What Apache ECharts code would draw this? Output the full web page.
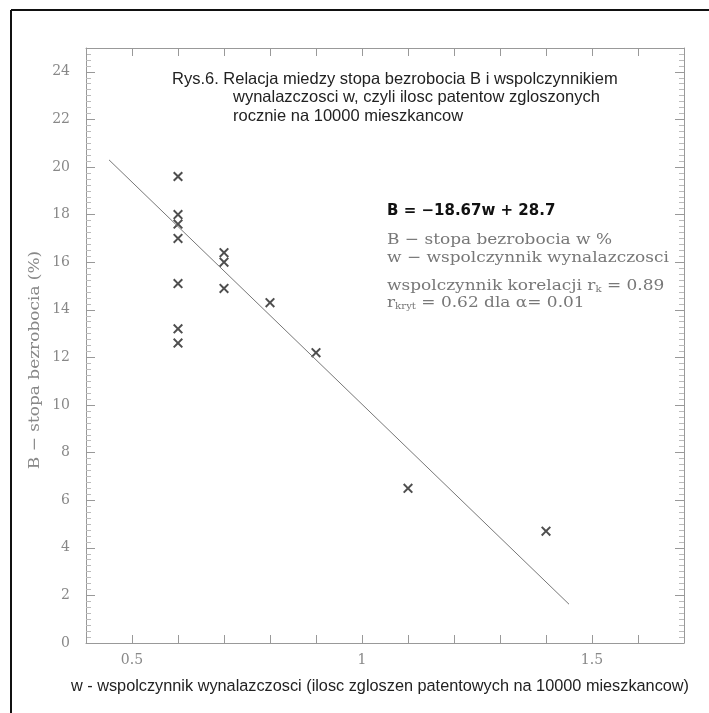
<html>
<head>
<meta charset="utf-8">
<title>Rys.6</title>
<script src="https://cdn.jsdelivr.net/npm/echarts@6/dist/echarts.min.js"></script>
<style>
  html, body { margin: 0; padding: 0; background: #fff; }
  #main { width: 709px; height: 713px; }
</style>
</head>
<body>
<div id="main"></div>
<script>
// dane
var wValues = [0.6, 0.6, 0.6, 0.6, 0.6, 0.6, 0.6, 0.7, 0.7, 0.7, 0.8, 0.9, 1.1, 1.4];
var bValues = [19.6, 18.0, 17.6, 17.0, 15.1, 13.2, 12.6, 16.4, 16.0, 14.9, 14.3, 12.2, 6.5, 4.7];
// prosta regresji B = -18.67w + 28.7 (konce odcinka)
var fitW = [0.45, 1.45];
var fitB = [20.3, 1.63];
var xLabelValues = [0.5, 1, 1.5];

var titleLines = [
    'Rys.6. Relacja miedzy stopa bezrobocia B i wspolczynnikiem',
    'wynalazczosci w, czyli ilosc patentow zgloszonych',
    'rocznie na 10000 mieszkancow'
];

var points = wValues.map(function (w, i) { return [w, bValues[i]]; });
var fitLine = fitW.map(function (w, i) { return [w, fitB[i]]; });

var grey = '#999';
var serif = 'DejaVu Serif';
var crossPath = 'path://M1.4,0 L5,3.6 L8.6,0 L10,1.4 L6.4,5 L10,8.6 L8.6,10 L5,6.4 L1.4,10 L0,8.6 L3.6,5 L0,1.4 Z';

function xLabel(v) {
    for (var i = 0; i < xLabelValues.length; i++) {
        if (Math.abs(v - xLabelValues[i]) < 1e-6) return String(xLabelValues[i]);
    }
    return '';
}

var myChart = echarts.init(document.getElementById('main'));

var baseX = {
    type: 'value', min: 0.4, max: 1.7, interval: 0.1,
    axisLine: { show: true, onZero: false, lineStyle: { color: grey, width: 1 } },
    axisTick: { show: true, inside: true, length: 8, lineStyle: { color: grey } },
    splitLine: { show: false }
};
var baseY = {
    type: 'value', min: 0, max: 25, interval: 2,
    axisLine: { show: true, onZero: false, lineStyle: { color: grey, width: 1 } },
    axisTick: { show: true, inside: true, length: 9, lineStyle: { color: grey } },
    minorTick: { show: true, splitNumber: 8, length: 5, lineStyle: { color: '#bbb' } },
    splitLine: { show: false }
};

var noteFont = '15px "DejaVu Serif"';
var subStyle = { fontSize: 9, fontFamily: serif, fill: '#777', padding: [7, 0, 0, 0] };

var option = {
    backgroundColor: '#fff',
    animation: false,
    grid: { left: 86, right: 25, top: 48, bottom: 70, containLabel: false },
    xAxis: [
        Object.assign({}, baseX, {
            position: 'bottom',
            axisLabel: { show: true, margin: 10, color: '#888', fontFamily: serif, fontSize: 14, formatter: xLabel }
        }),
        Object.assign({}, baseX, { position: 'top', axisLabel: { show: false } })
    ],
    yAxis: [
        Object.assign({}, baseY, {
            position: 'left',
            axisLabel: { show: true, margin: 16, color: '#888', fontFamily: serif, fontSize: 14, showMaxLabel: false }
        }),
        Object.assign({}, baseY, { position: 'right', axisLabel: { show: false } })
    ],
    graphic: [
        { type: 'line', shape: { x1: 11, y1: 10, x2: 11, y2: 713 }, style: { stroke: '#111', lineWidth: 2 } },
        { type: 'line', shape: { x1: 11, y1: 10, x2: 709, y2: 10 }, style: { stroke: '#111', lineWidth: 2 } },
        { type: 'text', left: 172, top: 71, style: { text: titleLines[0], fill: '#222', font: '16.5px "Liberation Sans"' } },
        { type: 'text', left: 233, top: 89, style: { text: titleLines[1], fill: '#222', font: '16.5px "Liberation Sans"' } },
        { type: 'text', left: 233, top: 108, style: { text: titleLines[2], fill: '#222', font: '16.5px "Liberation Sans"' } },
        { type: 'text', left: 387, top: 204, style: { text: 'B = −18.67w + 28.7', fill: '#111', font: 'bold 15px "DejaVu Sans"' } },
        { type: 'text', x: 387, y: 240, scaleX: 1.13, style: { text: 'B − stopa bezrobocia w %', fill: '#777', font: noteFont, verticalAlign: 'middle' } },
        { type: 'text', x: 387, y: 258, scaleX: 1.13, style: { text: 'w − wspolczynnik wynalazczosci', fill: '#777', font: noteFont, verticalAlign: 'middle' } },
        { type: 'text', x: 387, y: 286, scaleX: 1.13, style: {
            text: 'wspolczynnik korelacji r{sub|k} = 0.89', fill: '#777', font: noteFont, verticalAlign: 'middle', rich: { sub: subStyle }
        } },
        { type: 'text', x: 387, y: 303, scaleX: 1.13, style: {
            text: 'r{sub|kryt} = 0.62 dla α= 0.01', fill: '#777', font: noteFont, verticalAlign: 'middle', rich: { sub: subStyle }
        } },
        { type: 'text', x: 35, y: 360, rotation: Math.PI / 2, scaleX: 1.13, style: {
            text: 'B − stopa bezrobocia (%)', fill: '#888', font: noteFont, align: 'center', verticalAlign: 'middle'
        } },
        { type: 'text', x: 380, y: 687, style: {
            text: 'w - wspolczynnik wynalazczosci (ilosc zgloszen patentowych na 10000 mieszkancow)',
            fill: '#222', font: '16.3px "Liberation Sans"', align: 'center', verticalAlign: 'middle'
        } }
    ],
    series: [
        {
            name: 'regresja', type: 'line', data: fitLine, xAxisIndex: 0, yAxisIndex: 0,
            symbol: 'none', lineStyle: { color: '#777', width: 1 }, silent: true
        },
        {
            name: 'dane', type: 'scatter', data: points, xAxisIndex: 0, yAxisIndex: 0,
            symbol: crossPath, symbolSize: 10, itemStyle: { color: '#222' }
        }
    ]
};
myChart.setOption(option);
</script>
</body>
</html>
